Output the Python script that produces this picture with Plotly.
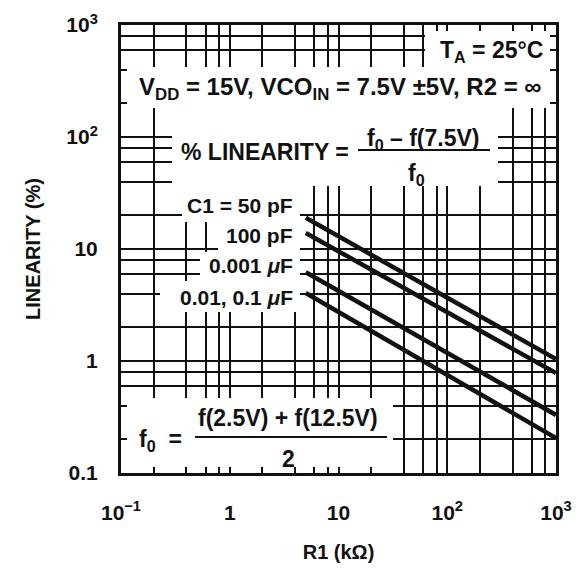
import plotly.graph_objects as go

# ---------------- data ----------------
r1_kohm = [5, 1000]
lin_c1_50pF = [19.0, 1.04]
lin_c1_100pF = [13.9, 0.78]
lin_c1_0001uF = [6.2, 0.33]
lin_c1_001uF = [4.05, 0.205]
series_labels = ["C1 = 50 pF", "100 pF", "0.001 <i>\u03bc</i>F", "0.01, 0.1 <i>\u03bc</i>F"]

x_major = [0.1, 1, 10, 100, 1000]
x_major_text = ["10<sup>\u22121</sup>", "1", "10", "10<sup>2</sup>", "10<sup>3</sup>"]
y_major = [0.1, 1, 10, 100, 1000]
y_major_text = ["0.1", "1", "10", "10<sup>2</sup>", "10<sup>3</sup>"]
x_minor = [0.2, 0.4, 0.6, 0.8, 2, 4, 6, 8, 20, 40, 60, 80, 200, 400, 600, 800]
y_minor = [0.2, 0.4, 0.6, 0.8, 2, 4, 6, 8, 20, 40, 60, 80, 200, 400, 600, 800]

# ---------------- layout geometry ----------------
W, H = 582, 569
L, R, T, B = 121, 26, 25, 96
PW, PH = W - L - R, H - T - B
XLOG0, XDEC = -1.0, 4.0   # log10 range of x axis
YLOG0, YDEC = -1.0, 4.0


def fx(px):
    return (px - L) / PW


def fy(py):
    return (H - B - py) / PH


def dx(px):  # pixel -> x data value (log axis)
    return 10 ** (XLOG0 + XDEC * fx(px))


def dy(py):
    return 10 ** (YLOG0 + YDEC * fy(py))


FONT = "Liberation Sans, Arial, Helvetica, sans-serif"
INK = "#111111"

fig = go.Figure()
for ys in [lin_c1_50pF, lin_c1_100pF, lin_c1_0001uF, lin_c1_001uF]:
    fig.add_trace(go.Scatter(x=r1_kohm, y=ys, mode="lines",
                             line=dict(color=INK, width=4.5),
                             showlegend=False, hoverinfo="skip"))

axis_common = dict(
    type="log", showline=True, linewidth=3, linecolor=INK, mirror="ticks",
    ticks="inside", ticklen=6, tickwidth=2, tickcolor=INK,
    showgrid=True, gridcolor=INK, gridwidth=2, zeroline=False,
    tickfont=dict(family=FONT, size=21, color=INK, weight="bold"),
    title_font=dict(family=FONT, size=20, color=INK, weight="bold"),
)

fig.update_xaxes(
    **axis_common, range=[XLOG0, XLOG0 + XDEC], tickmode="array",
    tickvals=x_major, ticktext=x_major_text,
    minor=dict(tickvals=x_minor, showgrid=True, gridcolor=INK, gridwidth=2,
               ticks="inside", ticklen=6, tickwidth=2, tickcolor=INK),
    ticklabelstandoff=19,
    title=dict(text="R1 (k\u03a9)", standoff=22),
)
fig.update_yaxes(
    **axis_common, range=[YLOG0, YLOG0 + YDEC], tickmode="array",
    tickvals=y_major, ticktext=y_major_text,
    minor=dict(tickvals=y_minor, showgrid=True, gridcolor=INK, gridwidth=2,
               ticks="inside", ticklen=6, tickwidth=2, tickcolor=INK),
    ticklabelstandoff=16,
    title=dict(text="LINEARITY (%)", standoff=21),
)

# white masks (cover grid, drawn between gridlines and traces)
masks = [
    (425, 556, 25, 67),
    (121, 556, 67, 108),
    (172, 498, 108, 186),
    (182, 300, 186, 222),
    (218, 300, 222, 252),
    (200, 300, 252, 281),
    (160, 300, 281, 312),
    (121, 393, 398, 473),
]
shapes = []
for x0, x1, y0, y1 in masks:
    shapes.append(dict(type="rect", xref="x", yref="y",
                       x0=dx(x0), x1=dx(x1), y0=dy(y1), y1=dy(y0),
                       fillcolor="white", line=dict(width=0), layer="between"))
# fraction bars
for x0, x1, yy in [(358, 490, 150), (195, 387, 437)]:
    shapes.append(dict(type="line", xref="paper", yref="paper",
                       x0=fx(x0), x1=fx(x1), y0=fy(yy), y1=fy(yy),
                       line=dict(color=INK, width=2), layer="above"))


def ann(text, px, py, size=23, xanchor="center"):
    return dict(text=text, x=fx(px), y=fy(py), xref="paper", yref="paper",
                xanchor=xanchor, yanchor="middle", showarrow=False,
                font=dict(family=FONT, size=size, color=INK, weight="bold"))


annotations = [
    ann("T<sub>A</sub> = 25\u00b0C", 545, 52, xanchor="right"),
    ann("V<sub>DD</sub> = 15V, VCO<sub>IN</sub> = 7.5V \u00b15V, R2 = \u221e", 340, 88, size=24),
    ann("% LINEARITY =", 179, 152, xanchor="left"),
    ann("f<sub>0</sub> \u2013 f(7.5V)", 423, 139),
    ann("f<sub>0</sub>", 416, 174),
    ann("f<sub>0</sub>  =", 137, 440, xanchor="left"),
    ann("f(2.5V) + f(12.5V)", 288, 418),
    ann("2", 288, 459),
]
for lab, py in zip(series_labels, [205, 235, 265, 297]):
    annotations.append(ann(lab, 295, py, size=21, xanchor="right"))

fig.update_layout(
    width=W, height=H, margin=dict(l=L, r=R, t=T, b=B, autoexpand=False),
    paper_bgcolor="white", plot_bgcolor="white",
    shapes=shapes, annotations=annotations,
)

fig.write_html("out.html", config={"displayModeBar": False},
               post_script="document.body.style.margin='0px';")
